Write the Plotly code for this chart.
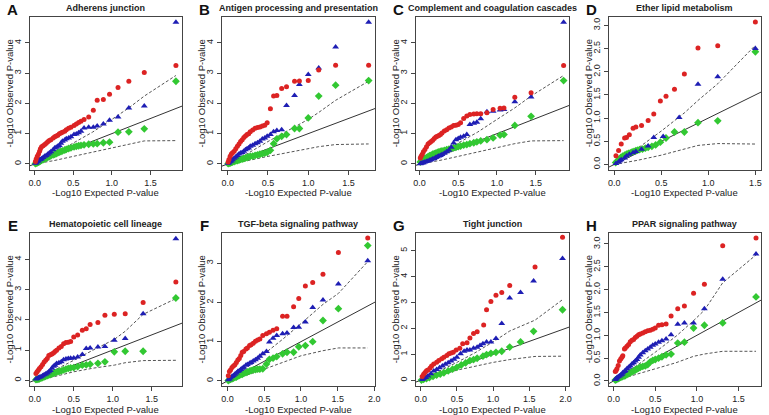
import plotly.graph_objects as go

# ---------------- data ----------------
TITLES = ["Adherens junction", "Antigen processing and presentation",
          "Complement and coagulation cascades", "Ether lipid metabolism",
          "Hematopoietic cell lineage", "TGF-beta signaling pathway",
          "Tight junction", "PPAR signaling pathway"]
LETTERS = ["A", "B", "C", "D", "E", "F", "G", "H"]
DIAG = [-1, 7]

# Panel A
A_x = [1.83, 1.42, 1.22, 1.08, 0.97, 0.89, 0.81, 0.76, 0.70, 0.64, 0.60, 0.57, 0.54, 0.51, 0.47, 0.44, 0.41, 0.39, 0.36, 0.34,
       0.32, 0.30, 0.28, 0.26, 0.24, 0.21, 0.19, 0.17, 0.15, 0.13, 0.11, 0.09, 0.075, 0.064, 0.05, 0.034, 0.02, 0.01]
A_red = [3.25, 3.02, 2.73, 2.52, 2.30, 2.13, 2.10, 1.77, 1.55, 1.47, 1.41, 1.37, 1.32, 1.27, 1.21, 1.18, 1.13, 1.08, 1.05, 1.02,
         1.00, 0.95, 0.92, 0.90, 0.86, 0.80, 0.77, 0.73, 0.68, 0.64, 0.60, 0.57, 0.50, 0.42, 0.33, 0.25, 0.16, 0.08]
A_blue = [4.68, 1.91, 1.85, 1.55, 1.44, 1.32, 1.25, 1.21, 1.21, 1.19, 1.08, 1.03, 0.99, 0.97, 0.90, 0.86, 0.83, 0.79, 0.75, 0.68,
          0.61, 0.58, 0.55, 0.53, 0.47, 0.40, 0.36, 0.32, 0.28, 0.25, 0.21, 0.17, 0.15, 0.14, 0.10, 0.07, 0.04, 0.02]
A_green = [2.73, 1.16, 1.06, 1.05, 0.72, 0.70, 0.67, 0.66, 0.65, 0.63, 0.61, 0.60, 0.58, 0.56, 0.53, 0.51, 0.48, 0.46, 0.43, 0.41,
           0.39, 0.37, 0.34, 0.32, 0.30, 0.27, 0.24, 0.22, 0.19, 0.17, 0.14, 0.12, 0.10, 0.08, 0.06, 0.04, 0.03, 0.01]
A_band_x = [0, 0.25, 0.5, 0.75, 1.0, 1.22, 1.42, 1.83]
A_upper = [0, 0.32, 0.69, 1.05, 1.47, 1.85, 2.24, 2.92]
A_lower = [0, 0.11, 0.25, 0.39, 0.53, 0.67, 0.76, 0.77]

# Panel B
B_x = [1.75, 1.34, 1.13, 1.0, 0.89, 0.83, 0.73, 0.67, 0.61, 0.57, 0.53, 0.49,
       0.46, 0.43, 0.40, 0.37, 0.34, 0.31, 0.28, 0.26, 0.24, 0.22, 0.20, 0.18, 0.16, 0.14, 0.12, 0.10, 0.08, 0.06, 0.045, 0.03, 0.015, 0.005]
B_red = [3.26, 3.26, 3.10, 2.75, 2.74, 2.73, 2.55, 2.49, 2.26, 2.24, 1.82, 1.36,
         1.28, 1.25, 1.22, 1.20, 1.18, 1.12, 1.06, 1.00, 0.97, 0.92, 0.87, 0.80, 0.74, 0.66, 0.58, 0.50, 0.42, 0.37, 0.33, 0.25, 0.15, 0.06]
B_blue = [4.68, 3.86, 3.17, 2.95, 2.62, 2.26, 1.93, 1.13, 1.10, 1.06, 0.97, 0.91,
          0.86, 0.82, 0.75, 0.70, 0.67, 0.62, 0.58, 0.53, 0.50, 0.47, 0.42, 0.38, 0.36, 0.33, 0.28, 0.23, 0.19, 0.14, 0.10, 0.07, 0.04, 0.02]
B_green = [2.75, 2.60, 2.24, 1.52, 1.17, 1.17, 0.97, 0.91, 0.83, 0.67, 0.45, 0.38,
           0.36, 0.34, 0.32, 0.30, 0.28, 0.26, 0.25, 0.23, 0.21, 0.20, 0.18, 0.16, 0.15, 0.13, 0.11, 0.10, 0.08, 0.06, 0.05, 0.03, 0.02, 0.01]
B_band_x = [0, 0.25, 0.5, 0.75, 1.0, 1.13, 1.34, 1.75]
B_upper = [0, 0.35, 0.74, 1.10, 1.47, 1.70, 2.10, 2.73]
B_lower = [0, 0.11, 0.25, 0.38, 0.50, 0.57, 0.64, 0.66]

# Panel C
C_x = [1.86, 1.44, 1.23, 1.09, 1.04, 0.95, 0.87, 0.79, 0.74, 0.70, 0.65, 0.61, 0.57,
       0.53, 0.50, 0.47, 0.44, 0.41, 0.38, 0.35, 0.32, 0.29, 0.27, 0.25, 0.23, 0.21, 0.19, 0.17, 0.15, 0.13, 0.11, 0.09, 0.07, 0.05, 0.035, 0.02, 0.01]
C_red = [3.25, 2.35, 2.20, 1.85, 1.84, 1.80, 1.69, 1.66, 1.66, 1.65, 1.63, 1.58, 1.50,
         1.36, 1.30, 1.28, 1.27, 1.22, 1.19, 1.13, 1.09, 1.02, 0.97, 0.94, 0.91, 0.89, 0.84, 0.78, 0.74, 0.70, 0.66, 0.57, 0.48, 0.40, 0.32, 0.25, 0.20]
C_blue = [4.68, 2.21, 2.05, 1.80, 1.78, 1.74, 1.72, 1.49, 1.38, 1.34, 1.30, 0.97, 0.91,
          0.88, 0.84, 0.80, 0.69, 0.55, 0.45, 0.40, 0.35, 0.31, 0.28, 0.26, 0.24, 0.21, 0.18, 0.16, 0.14, 0.12, 0.10, 0.08, 0.06, 0.04, 0.03, 0.02, 0.01]
C_green = [2.75, 1.57, 1.27, 0.97, 0.95, 0.86, 0.80, 0.76, 0.73, 0.70, 0.67, 0.64, 0.62,
           0.59, 0.57, 0.55, 0.53, 0.51, 0.49, 0.47, 0.45, 0.43, 0.41, 0.40, 0.38, 0.36, 0.34, 0.32, 0.29, 0.27, 0.24, 0.21, 0.18, 0.15, 0.12, 0.09, 0.06]
C_band_x = [0, 0.25, 0.5, 0.75, 1.0, 1.23, 1.44, 1.86]
C_upper = [0, 0.32, 0.69, 1.05, 1.47, 1.85, 2.24, 2.92]
C_lower = [0, 0.11, 0.25, 0.39, 0.53, 0.67, 0.76, 0.77]

# Panel D
D_red_x = [1.50, 1.10, 0.89, 0.745, 0.64, 0.55, 0.49, 0.42, 0.36, 0.29, 0.23, 0.20, 0.16, 0.13, 0.11, 0.074, 0.046, 0.018]
D_red = [3.07, 2.56, 2.51, 1.95, 1.62, 1.47, 1.37, 1.09, 0.95, 0.84, 0.81, 0.78, 0.64, 0.58, 0.57, 0.44, 0.30, 0.19]
D_blue_x = [1.50, 1.10, 0.89, 0.69, 0.52, 0.42, 0.36, 0.29, 0.23, 0.20, 0.16, 0.13, 0.11, 0.074, 0.06, 0.046, 0.018]
D_blue = [2.50, 1.89, 1.73, 1.01, 0.60, 0.58, 0.40, 0.33, 0.28, 0.25, 0.22, 0.18, 0.14, 0.10, 0.08, 0.05, 0.02]
D_green_x = [1.50, 1.10, 0.89, 0.745, 0.64, 0.55, 0.49, 0.44, 0.40, 0.36, 0.33, 0.30, 0.27, 0.25, 0.23, 0.21, 0.19, 0.17,
             0.15, 0.13, 0.11, 0.09, 0.07, 0.05, 0.03, 0.015]
D_green = [2.43, 0.94, 0.90, 0.70, 0.70, 0.57, 0.48, 0.42, 0.39, 0.37, 0.35, 0.33, 0.32, 0.31, 0.30, 0.28, 0.27, 0.25,
           0.24, 0.22, 0.20, 0.18, 0.15, 0.11, 0.07, 0.04]
D_band_x = [0, 0.25, 0.5, 0.75, 0.89, 1.10, 1.50]
D_upper = [0, 0.35, 0.72, 1.12, 1.38, 1.74, 2.57]
D_lower = [0, 0.09, 0.20, 0.34, 0.41, 0.45, 0.44]

# Panel E
E_x = [1.81, 1.39, 1.16, 1.02, 0.90, 0.81, 0.71, 0.66, 0.61, 0.55, 0.50, 0.46, 0.43, 0.40, 0.37, 0.34, 0.31, 0.28, 0.26, 0.24,
       0.22, 0.20, 0.18, 0.16, 0.14, 0.12, 0.10, 0.08, 0.06, 0.045, 0.03, 0.015]
E_red = [3.25, 2.57, 2.20, 2.18, 2.15, 1.91, 1.84, 1.70, 1.65, 1.50, 1.43, 1.28, 1.26, 1.25, 1.21, 1.12, 1.07, 0.99, 0.95, 0.90,
         0.87, 0.84, 0.82, 0.72, 0.66, 0.60, 0.52, 0.45, 0.39, 0.33, 0.28, 0.22]
E_blue = [4.68, 2.20, 1.38, 1.32, 1.12, 1.10, 1.07, 1.05, 0.85, 0.77, 0.74, 0.73, 0.72, 0.70, 0.68, 0.61, 0.58, 0.55, 0.50, 0.46,
          0.40, 0.32, 0.28, 0.24, 0.21, 0.18, 0.15, 0.12, 0.10, 0.08, 0.06, 0.04]
E_green = [2.72, 0.96, 0.96, 0.94, 0.61, 0.56, 0.53, 0.51, 0.50, 0.45, 0.42, 0.41, 0.39, 0.37, 0.34, 0.31, 0.29, 0.27, 0.25, 0.23,
           0.21, 0.19, 0.17, 0.15, 0.13, 0.11, 0.09, 0.07, 0.05, 0.04, 0.03, 0.02]
E_band_x = [0, 0.25, 0.5, 0.75, 1.02, 1.16, 1.39, 1.81]
E_upper = [0, 0.32, 0.66, 1.00, 1.35, 1.62, 2.18, 2.70]
E_lower = [0, 0.12, 0.28, 0.40, 0.50, 0.58, 0.65, 0.66]

# Panel F
F_x = [1.91, 1.51, 1.30, 1.16, 1.06, 0.97, 0.90, 0.81, 0.75, 0.67, 0.62, 0.57, 0.53, 0.48, 0.44,
       0.41, 0.38, 0.35, 0.32, 0.30, 0.27, 0.25, 0.22, 0.20, 0.18, 0.16, 0.14, 0.12, 0.10, 0.08, 0.06, 0.04, 0.025, 0.01]
F_red = [3.64, 3.27, 2.72, 2.51, 2.42, 2.10, 1.89, 1.65, 1.65, 1.33, 1.29, 1.24, 1.20, 1.16, 1.07,
         1.04, 1.01, 0.96, 0.92, 0.90, 0.84, 0.81, 0.75, 0.73, 0.65, 0.57, 0.53, 0.47, 0.41, 0.38, 0.34, 0.28, 0.24, 0.13]
F_blue = [3.06, 2.47, 2.06, 1.87, 1.50, 1.37, 1.36, 1.22, 1.20, 1.16, 1.09, 0.99, 0.75, 0.69, 0.63,
          0.58, 0.54, 0.51, 0.47, 0.45, 0.42, 0.40, 0.35, 0.32, 0.29, 0.26, 0.24, 0.20, 0.17, 0.14, 0.11, 0.08, 0.05, 0.03]
F_green = [3.45, 1.84, 1.54, 1.00, 0.90, 0.87, 0.73, 0.73, 0.69, 0.62, 0.58, 0.55, 0.43, 0.31, 0.30,
           0.30, 0.29, 0.28, 0.26, 0.25, 0.23, 0.21, 0.19, 0.17, 0.16, 0.14, 0.12, 0.10, 0.09, 0.07, 0.05, 0.04, 0.03, 0.01]
F_band_x = [0, 0.25, 0.5, 0.75, 1.0, 1.30, 1.51, 1.91]
F_upper = [0, 0.33, 0.69, 1.06, 1.46, 1.95, 2.23, 3.04]
F_lower = [0, 0.14, 0.30, 0.48, 0.64, 0.77, 0.84, 0.84]

# Panel G
G_red_x = [1.96, 1.58, 1.23, 1.12, 1.04, 0.97, 0.91, 0.87, 0.78, 0.73, 0.68, 0.64, 0.58, 0.54, 0.49, 0.45, 0.42, 0.39, 0.36, 0.32,
           0.29, 0.25, 0.22, 0.18, 0.15, 0.13, 0.10, 0.08, 0.06, 0.04, 0.02]
G_red = [5.52, 4.37, 3.66, 3.39, 3.28, 3.04, 2.72, 2.13, 1.87, 1.80, 1.63, 1.45, 1.41, 1.24, 1.17, 1.08, 1.05, 1.02, 0.96, 0.89,
         0.83, 0.76, 0.70, 0.63, 0.55, 0.47, 0.40, 0.37, 0.30, 0.23, 0.15]
G_blue_x = [1.96, 1.56, 1.38, 1.23, 1.12, 1.04, 0.97, 0.91, 0.86, 0.82, 0.78, 0.73, 0.68, 0.64, 0.60, 0.55, 0.50, 0.46, 0.42, 0.38,
            0.34, 0.30, 0.26, 0.22, 0.18, 0.14, 0.10, 0.07, 0.04, 0.02]
G_blue = [4.70, 3.83, 3.39, 3.17, 2.19, 1.61, 1.48, 1.48, 1.41, 1.34, 1.27, 1.24, 1.17, 1.17, 1.12, 1.02, 0.89, 0.81, 0.74, 0.68,
          0.62, 0.55, 0.48, 0.42, 0.36, 0.25, 0.17, 0.11, 0.06, 0.03]
G_green_x = [1.96, 1.56, 1.38, 1.23, 1.12, 1.04, 0.97, 0.91, 0.86, 0.78, 0.73, 0.68, 0.62, 0.56, 0.50, 0.44, 0.38, 0.32, 0.27, 0.22,
             0.17, 0.12, 0.08, 0.04, 0.01]
G_green = [2.72, 1.89, 1.48, 1.28, 1.12, 1.08, 1.04, 0.99, 0.93, 0.85, 0.80, 0.76, 0.67, 0.59, 0.50, 0.43, 0.36, 0.29, 0.24, 0.20,
           0.15, 0.10, 0.07, 0.04, 0.01]
G_band_x = [0, 0.25, 0.5, 0.75, 1.0, 1.23, 1.58, 1.96]
G_upper = [0, 0.33, 0.69, 1.06, 1.48, 1.90, 2.32, 3.11]
G_lower = [0, 0.18, 0.39, 0.55, 0.69, 0.80, 0.92, 0.93]

# Panel H
H_x = [1.71, 1.31, 1.09, 0.96, 0.85, 0.77, 0.69, 0.63, 0.58, 0.54, 0.50, 0.47, 0.44, 0.41, 0.38, 0.35, 0.32, 0.30,
       0.28, 0.26, 0.24, 0.22, 0.20, 0.18, 0.16, 0.14, 0.13, 0.11, 0.10, 0.085, 0.07, 0.055, 0.04, 0.03, 0.02]
H_red = [3.13, 2.96, 2.12, 1.92, 1.64, 1.58, 1.42, 1.25, 1.23, 1.22, 1.16, 1.13, 1.11, 1.10, 1.08, 1.05, 1.03, 1.01,
         0.98, 0.95, 0.91, 0.89, 0.86, 0.80, 0.76, 0.72, 0.70, 0.55, 0.52, 0.48, 0.44, 0.34, 0.27, 0.23, 0.21]
H_blue = [2.78, 2.23, 1.58, 1.27, 1.27, 1.24, 1.01, 0.92, 0.88, 0.85, 0.81, 0.78, 0.74, 0.70, 0.66, 0.62, 0.57, 0.52,
          0.47, 0.44, 0.40, 0.37, 0.33, 0.30, 0.27, 0.23, 0.21, 0.18, 0.15, 0.13, 0.11, 0.09, 0.07, 0.05, 0.03]
H_green = [1.84, 1.27, 1.22, 1.16, 0.85, 0.83, 0.59, 0.57, 0.53, 0.50, 0.47, 0.45, 0.42, 0.36, 0.33, 0.32, 0.30, 0.28,
           0.26, 0.24, 0.22, 0.20, 0.18, 0.16, 0.14, 0.12, 0.11, 0.10, 0.09, 0.08, 0.07, 0.05, 0.04, 0.03, 0.02]
H_band_x = [0, 0.25, 0.5, 0.75, 0.96, 1.09, 1.31, 1.71]
H_upper = [0, 0.30, 0.63, 0.98, 1.32, 1.55, 2.15, 2.76]
H_lower = [0, 0.13, 0.26, 0.40, 0.54, 0.59, 0.65, 0.65]

X_TICKS = [0, 0.5, 1.0, 1.5, 2.0]

# ---------------- assembly ----------------
PANELS = [
    (A_x, A_red, A_x, A_blue, A_x, A_green, A_band_x, A_upper, A_lower),
    (B_x, B_red, B_x, B_blue, B_x, B_green, B_band_x, B_upper, B_lower),
    (C_x, C_red, C_x, C_blue, C_x, C_green, C_band_x, C_upper, C_lower),
    (D_red_x, D_red, D_blue_x, D_blue, D_green_x, D_green, D_band_x, D_upper, D_lower),
    (E_x, E_red, E_x, E_blue, E_x, E_green, E_band_x, E_upper, E_lower),
    (F_x, F_red, F_x, F_blue, F_x, F_green, F_band_x, F_upper, F_lower),
    (G_red_x, G_red, G_blue_x, G_blue, G_green_x, G_green, G_band_x, G_upper, G_lower),
    (H_x, H_red, H_x, H_blue, H_x, H_green, H_band_x, H_upper, H_lower),
]

W, H = 769, 415
COLS = [(28, 182), (222, 377), (418, 573), (613, 767)]
ROWS = [(17, 170), (233, 386)]
XR = [(-0.064, 1.91), (-0.075, 1.83), (-0.05, 1.93), (-0.06, 1.56),
      (-0.065, 1.89), (-0.08, 2.01), (-0.07, 2.05), (-0.06, 1.77)]
YR = [(-0.2, 4.85), (-0.2, 4.85), (-0.2, 4.85), (-0.12, 3.18),
      (-0.19, 4.87), (-0.13, 3.77), (-0.22, 5.68), (-0.11, 3.24)]
YT = [([0, 1, 2, 3, 4], "d"), ([0, 1, 2, 3, 4], "d"), ([0, 1, 2, 3, 4], "d"),
      ([0, 0.5, 1, 1.5, 2, 2.5, 3], ".1f"), ([0, 1, 2, 3, 4], "d"), ([0, 1, 2, 3], "d"),
      ([0, 1, 2, 3, 4, 5], "d"), ([0, 0.5, 1, 1.5, 2, 2.5, 3], ".1f")]

RED, BLUE, GREEN = "#dc2323", "#1e1eb4", "#32c832"
FONT = "Liberation Sans, Arial, sans-serif"
TXT = "#222222"
LINE = "#444444"

fig = go.Figure()
layout = dict(width=W, height=H, margin=dict(l=0, r=0, t=0, b=0),
              paper_bgcolor="white", plot_bgcolor="white", showlegend=False,
              font=dict(family=FONT, color=TXT))
annotations = []

for i, p in enumerate(PANELS):
    r, c = divmod(i, 4)
    x0, x1 = COLS[c]
    y0, y1 = ROWS[r]
    n = i + 1
    xa = "x" if n == 1 else f"x{n}"
    ya = "y" if n == 1 else f"y{n}"
    rx, ry, bx, by, gx, gy, band_x, upper, lower = p
    fig.add_trace(go.Scatter(x=DIAG, y=DIAG, mode="lines", line=dict(color="#333333", width=1),
                             xaxis=xa, yaxis=ya, hoverinfo="skip"))
    for yy in (upper, lower):
        fig.add_trace(go.Scatter(x=band_x, y=yy, mode="lines", line=dict(color="#555555", width=1, dash="3px,2px"),
                                 xaxis=xa, yaxis=ya, hoverinfo="skip"))
    fig.add_trace(go.Scatter(x=gx, y=gy, mode="markers", xaxis=xa, yaxis=ya, cliponaxis=False,
                             marker=dict(symbol="diamond", size=6, color=GREEN, line=dict(width=0))))
    fig.add_trace(go.Scatter(x=bx, y=by, mode="markers", xaxis=xa, yaxis=ya, cliponaxis=False,
                             marker=dict(symbol="triangle-up", size=6, color=BLUE, line=dict(width=0))))
    fig.add_trace(go.Scatter(x=rx, y=ry, mode="markers", xaxis=xa, yaxis=ya, cliponaxis=False,
                             marker=dict(symbol="circle", size=5, color=RED, line=dict(width=0))))

    xticks = [t for t in X_TICKS if XR[i][0] <= t <= XR[i][1]]
    layout["xaxis" if n == 1 else f"xaxis{n}"] = dict(
        domain=[x0 / W, x1 / W], range=list(XR[i]), anchor=ya,
        tickvals=xticks, tickformat=".1f", ticks="outside", ticklen=4, tickcolor=LINE,
        showline=True, mirror=True, linecolor=LINE, linewidth=1, showgrid=False, zeroline=False,
        tickfont=dict(size=9, family=FONT, color=TXT))
    layout["yaxis" if n == 1 else f"yaxis{n}"] = dict(
        domain=[1 - y1 / H, 1 - y0 / H], range=list(YR[i]), anchor=xa,
        tickvals=YT[i][0], tickformat=YT[i][1], tickangle=-90, ticks="outside", ticklen=4, tickcolor=LINE,
        showline=True, mirror=True, linecolor=LINE, linewidth=1, showgrid=False, zeroline=False,
        tickfont=dict(size=9, family=FONT, color=TXT))

    annotations.append(dict(text=f"<b>{TITLES[i]}</b>", x=(x0 + x1) / 2 / W, y=1 - (y0 - 9) / H,
                            xref="paper", yref="paper", showarrow=False, xanchor="center", yanchor="middle",
                            font=dict(size=9, family=FONT, color=TXT)))
    annotations.append(dict(text=f"<b>{LETTERS[i]}</b>", x=(x0 - 17) / W, y=1 - (y0 - 8) / H,
                            xref="paper", yref="paper", showarrow=False, xanchor="center", yanchor="middle",
                            font=dict(size=15, family=FONT, color="#111111")))
    annotations.append(dict(text="-Log10 Expected P-value", x=(x0 + x1) / 2 / W, y=1 - (y1 + 23) / H,
                            xref="paper", yref="paper", showarrow=False, xanchor="center", yanchor="middle",
                            font=dict(size=9.5, family=FONT, color=TXT)))
    annotations.append(dict(text="-Log10 Observed P-value", x=(x0 - 20) / W, y=1 - (y0 + y1) / 2 / H,
                            xref="paper", yref="paper", showarrow=False, xanchor="center", yanchor="middle",
                            textangle=-90, font=dict(size=9.5, family=FONT, color=TXT)))

layout["annotations"] = annotations
fig.update_layout(**layout)
fig.write_html("out.html", config={"displayModeBar": False},
               post_script="document.body.style.margin='0';document.body.style.overflow='hidden';")
